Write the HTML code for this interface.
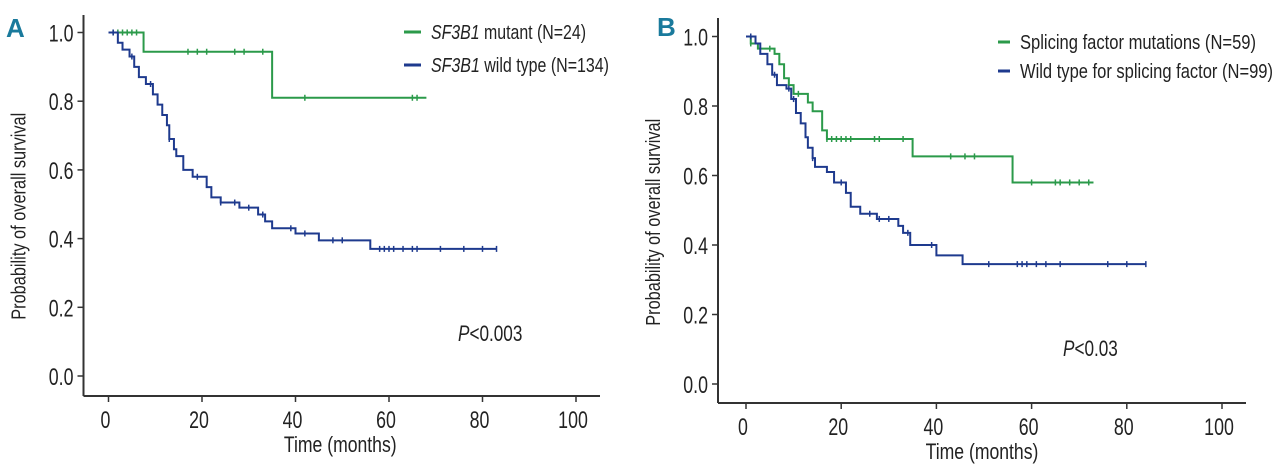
<!DOCTYPE html>
<html><head><meta charset="utf-8"><style>
html,body{margin:0;padding:0;background:#fff;}
svg{display:block;font-family:"Liberation Sans",sans-serif;}
</style></head><body>
<svg id="chart" width="1280" height="467" viewBox="0 0 1280 467"></svg>
<script>
// Panel A data
const aGreenT=[0,7.5,35,68];
const aGreenS=[1.0,0.944,0.81,0.81];
const aGreenCens=[1,2,3,4,5,6,17,19,21,27,29,33,42,65,66];
const aBlueT=[0,2,3,4.5,5.5,6.5,8,9.5,10.5,11.5,12.5,13,14,14.5,16,18,21,22,24,28,32,33.5,35,40,45,56,83];
const aBlueS=[1,0.97,0.95,0.93,0.90,0.87,0.85,0.82,0.79,0.76,0.73,0.69,0.66,0.64,0.60,0.58,0.55,0.52,0.505,0.49,0.47,0.45,0.43,0.415,0.395,0.37,0.37];
const aBlueCens=[1,5,9,13,19,24,27,30,33,39,42,48,50,58,59,60,61,63,65,66,71,76,80,83];
// Panel B data
const bGreenT=[0,1,2.5,6,7,8,9,10,13,14,16,17,35,56,73];
const bGreenS=[1,0.98,0.965,0.95,0.92,0.88,0.86,0.835,0.81,0.785,0.73,0.705,0.655,0.58,0.58];
const bGreenCens=[1,3,5,11,17,18,19,20,21,22,27,28,33,43,46,48,60,65,66,68,70,72];
const bBlueT=[0,2,3,4.5,5.5,6.5,8.5,9.5,10.5,11.5,12.5,13,14,14.5,17,18.5,21,22,24,27.5,32,33,34.5,40,45.5,84];
const bBlueS=[1,0.98,0.95,0.92,0.89,0.86,0.85,0.82,0.78,0.75,0.71,0.68,0.65,0.625,0.61,0.58,0.55,0.51,0.49,0.475,0.455,0.435,0.40,0.37,0.345,0.345];
const bBlueCens=[1,6,9,10,14,20,26,28,30,34,39,51,57,58,59,61,63,66,76,80,84];
const xTicks=[0,20,40,60,80,100];
const yTicks=[0.0,0.2,0.4,0.6,0.8,1.0];

const NS="http://www.w3.org/2000/svg";
const svg=document.getElementById('chart');
function mk(tag,attrs,parent){const e=document.createElementNS(NS,tag);for(const k in attrs)e.setAttribute(k,attrs[k]);(parent||svg).appendChild(e);return e;}
const GREEN="#2b9a4a",BLUE="#1e3a8e",AX="#333";

function panel(p){
  const g=mk('g',{});
  
  
  const X=t=>p.x0+(p.x100-p.x0)*t/100;
  const Y=s=>p.y0+(p.y1-p.y0)*s;
  const ya=mk('line',{x1:p.ax,y1:p.axTop,x2:p.ax,y2:p.axY,stroke:AX,'stroke-width':2},g);
  
  const xa=mk('line',{x1:p.ax,y1:p.axY,x2:p.axRight,y2:p.axY,stroke:AX,'stroke-width':2},g);
  
  yTicks.forEach(v=>{
    mk('line',{x1:p.ax-6,x2:p.ax,y1:Y(v),y2:Y(v),stroke:AX,'stroke-width':1.5},g);
    const t=mk('text',{'text-anchor':'end','font-size':24,fill:'#222',transform:`translate(${p.ax-10},${Y(v)+9}) scale(0.74,1)`},g);
    t.textContent=v.toFixed(1);
    
  });
  xTicks.forEach(v=>{
    mk('line',{x1:X(v),x2:X(v),y1:p.axY,y2:p.axY+6,stroke:AX,'stroke-width':1.5},g);
    const t=mk('text',{'text-anchor':'middle','font-size':24,fill:'#222',transform:`translate(${X(v)-3},${p.axY+32}) scale(0.74,1)`},g);
    t.textContent=v;
    
  });
  const xt=mk('text',{'text-anchor':'middle','font-size':22,fill:'#222',transform:`translate(${X(50)-2},${p.axY+56}) scale(0.8,1)`},g);
  xt.textContent='Time (months)';
  
  const yt=mk('text',{x:0,y:0,'text-anchor':'middle','font-size':20,fill:'#222',textLength:p.ytLen,lengthAdjust:'spacingAndGlyphs',transform:`translate(${p.ax-58},${(Y(0)+Y(1))/2+12}) rotate(-90)`},g);
  yt.textContent='Probability of overall survival';
  
  const pl=mk('text',{x:p.panelLx,y:p.panelLy,'font-size':26,'font-weight':'bold',fill:'#1a7a9c'},g);
  pl.textContent=p.letter;
  
  function curve(T,S,C,col,nm){
    let d=`M${X(T[0])},${Y(S[0])}`;
    for(let i=1;i<T.length;i++){d+=`H${X(T[i])}V${Y(S[i])}`;}
    const path=mk('path',{d:d,fill:'none',stroke:col,'stroke-width':2},g);
    
    C.forEach(c=>{
      let s=S[0];for(let i=0;i<T.length;i++){if(T[i]<=c)s=S[i];}
      const m=mk('line',{x1:X(c),x2:X(c),y1:Y(s)-3,y2:Y(s)+3,stroke:col,'stroke-width':1.5},g);
      
    });
  }
  curve(p.gT,p.gS,p.gC,GREEN,'mutant');
  curve(p.bT,p.bS,p.bC,BLUE,'wild-type');
  p.legend.forEach((L,i)=>{
    const y=p.legY+i*p.legDy;
    const e=mk('g',{},g);
    
    mk('line',{x1:p.legX,x2:p.legX+p.legW,y1:y,y2:y,stroke:i?BLUE:GREEN,'stroke-width':3},e);
    const t=mk('text',{x:p.legX+p.legW+10,y:y+7,'font-size':20,fill:'#222',textLength:p.legLen[i],lengthAdjust:'spacingAndGlyphs'},e);
    t.innerHTML=L;
  });
  const pv=mk('text',{'font-size':22,fill:'#222',transform:`translate(${p.pX},${p.pY}) scale(0.78,1)`},g);
  pv.innerHTML=p.pText;
  
}

panel({name:'panel-a',letter:'A',panelLx:6,panelLy:37,ax:83.5,axTop:15,axY:396,axRight:600,
  x0:108.5,x100:576,y0:376,y1:32.5,ytLen:207,
  gT:aGreenT,gS:aGreenS,gC:aGreenCens,bT:aBlueT,bS:aBlueS,bC:aBlueCens,
  legX:404,legW:17,legY:32,legDy:33,legLen:[155,178],
  legend:['<tspan font-style="italic">SF3B1</tspan> mutant (N=24)','<tspan font-style="italic">SF3B1</tspan> wild type (N=134)'],
  pX:458,pY:341,pText:'<tspan font-style="italic">P</tspan>&lt;0.003'});
panel({name:'panel-b',letter:'B',panelLx:657,panelLy:36,ax:718,axTop:18,axY:403,axRight:1246,
  x0:746,x100:1222,y0:384,y1:36.5,ytLen:207,
  gT:bGreenT,gS:bGreenS,gC:bGreenCens,bT:bBlueT,bS:bBlueS,bC:bBlueCens,
  legX:998,legW:12,legY:42,legDy:29,legLen:[236,253],
  legend:['Splicing factor mutations (N=59)','Wild type for splicing factor (N=99)'],
  pX:1063,pY:356,pText:'<tspan font-style="italic">P</tspan>&lt;0.03'});
</script>
</body></html>
